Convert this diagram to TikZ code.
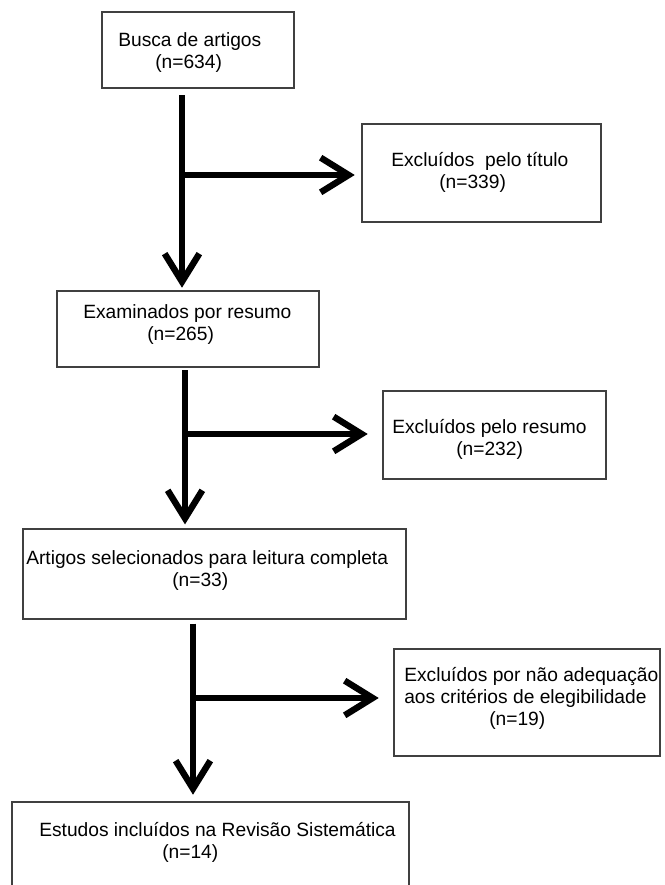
\documentclass[tikz,border=0pt]{standalone}
\usepackage{fontspec}
\setmainfont{Liberation Sans}
\usetikzlibrary{arrows.meta}

\begin{document}
\begin{tikzpicture}[x=0.75pt, y=-0.75pt,
  box/.style={draw=black!75, line width=0.9pt, inner sep=0pt},
  txt/.style={anchor=base west, align=left, inner sep=0pt, font=\fontsize{14.4}{16.5}\selectfont},
  flow/.style={line width=4.8pt, -{Straight Barb[length=21pt, width=26pt]}}]
  \newcommand{\Recuo}[1]{\hspace*{\dimexpr #1pt*3/4\relax}}
  \useasboundingbox (0,0) rectangle (664,885);
  % caixas
  \node[box, minimum width=144pt, minimum height=57pt] (busca) at (198,50) {};
  \node[box, minimum width=179.25pt, minimum height=73.5pt] (titulo) at (481.5,173) {};
  \node[box, minimum width=196.5pt, minimum height=57pt] (resumo) at (188,329) {};
  \node[box, minimum width=167.25pt, minimum height=66pt] (exclres) at (494.5,435) {};
  \node[box, minimum width=287.25pt, minimum height=67.5pt] (leitura) at (214.5,574) {};
  \node[box, minimum width=199.5pt, minimum height=80.25pt] (elegib) at (527,702.5) {};
  \node[box, minimum width=297.75pt, minimum height=64.5pt] (estudos) at (210.5,845) {};
  % textos (base = ultima linha)
  \node[txt] (busca-txt) at (118,68) {Busca de artigos\\\Recuo{37}(n=634)};
  \node[txt] (titulo-txt) at (391,188) {Excluídos~~pelo título\\\Recuo{48}(n=339)};
  \node[txt] (resumo-txt) at (83,340) {Examinados por resumo\\\Recuo{64}(n=265)};
  \node[txt] (exclres-txt) at (392,455) {Excluídos pelo resumo\\\Recuo{64}(n=232)};
  \node[txt] (leitura-txt) at (26,586) {Artigos selecionados para leitura completa\\\Recuo{146}(n=33)};
  \node[txt] (elegib-txt) at (404,725) {Excluídos por não adequação\\aos critérios de elegibilidade\\\Recuo{85}(n=19)};
  \node[txt] (estudos-txt) at (39,858) {Estudos incluídos na Revisão Sistemática\\\Recuo{123}(n=14)};
  % setas
  \coordinate (j1) at (182,175);
  \coordinate (j2) at (185,434);
  \coordinate (j3) at (193,698);
  \draw[flow, shorten <=5pt, shorten >=2pt] (busca.south -| j1) -- (resumo.north -| j1);
  \draw[flow, shorten >=5pt] (j1) -- (titulo.west |- j1);
  \draw[flow, shorten <=2pt, shorten >=3pt] (resumo.south -| j2) -- (leitura.north -| j2);
  \draw[flow, shorten >=11pt] (j2) -- (exclres.west |- j2);
  \draw[flow, shorten <=3pt, shorten >=5pt] (leitura.south -| j3) -- (estudos.north -| j3);
  \draw[flow, shorten >=11pt] (j3) -- (elegib.west |- j3);
\end{tikzpicture}
\end{document}
